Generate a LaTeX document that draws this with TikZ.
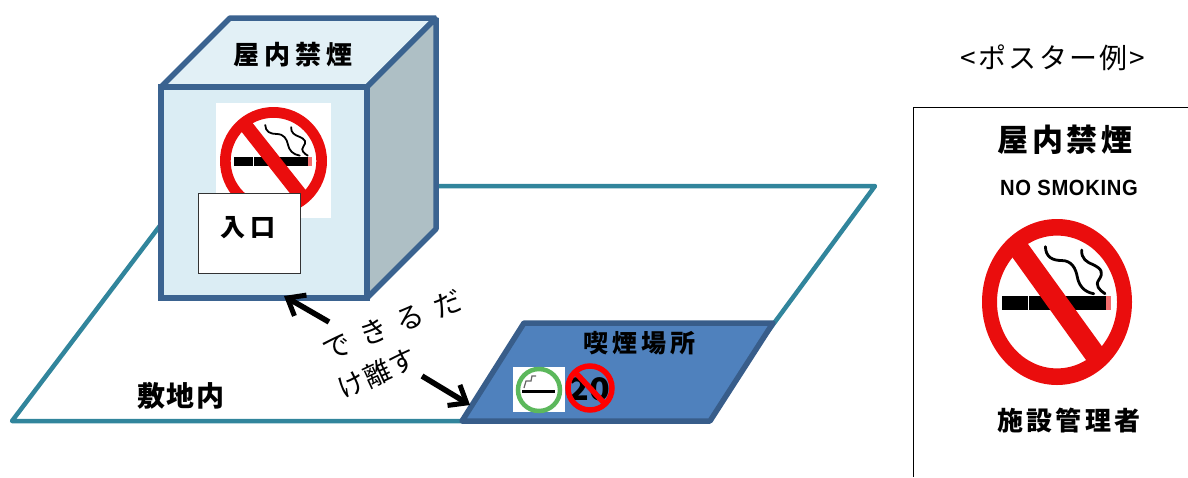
\documentclass[tikz,border=0pt]{standalone}
\usepackage{fontspec}
\setmainfont{Noto Sans CJK JP}
\newfontfamily\latinbold{Liberation Sans}
\usetikzlibrary{arrows.meta}
\definecolor{groundline}{HTML}{31859C}
\definecolor{cubeline}{HTML}{3B6390}
\definecolor{cubefront}{HTML}{DBEDF4}
\definecolor{cubetop}{HTML}{E2F0F6}
\definecolor{cubeside}{HTML}{AEBFC5}
\definecolor{zonefill}{HTML}{4F81BD}
\definecolor{zoneline}{HTML}{385D8A}
\definecolor{signred}{HTML}{EA0D0D}
\definecolor{ringgreen}{HTML}{5CB85C}
\newcommand{\jpt}[2]{\bfseries\addfontfeature{LetterSpace=#2}\fontsize{#1pt}{#1pt}\selectfont}
\newcommand{\nosmoke}[5]{%
  \begin{scope}[shift={(#1,#2)},xscale=#3,yscale=#4]
    \fill[black] (-.73,-.07) rectangle (.65,.1);
    \fill[white] (-.39,-.07) rectangle (-.37,.1);
    \fill[signred!60] (.65,-.07) rectangle (.72,.1);
    \draw[black,line width=#5,line cap=round] (-.155,-.667) .. controls (-.15,-.54) and (-.06,-.5) .. (.06,-.5) .. controls (.2,-.5) and (.25,-.4) .. (.27,-.305) .. controls (.29,-.2) and (.36,-.12) .. (.49,-.1);
    \draw[black,line width=#5,line cap=round] (.33,-.627) .. controls (.32,-.52) and (.4,-.48) .. (.48,-.45) .. controls (.6,-.4) and (.62,-.35) .. (.56,-.27) .. controls (.5,-.2) and (.57,-.14) .. (.64,-.1);
    \fill[signred,even odd rule] (0,0) circle (1) (0,0) circle (.8);
    \fill[signred] (-.62,-.57) -- (-.42,-.74) -- (.62,.56) -- (.42,.74) -- cycle;
  \end{scope}}
\tikzset{
  ground/.style={draw=groundline,line width=4.5pt,line join=round},
  cubeface/.style={draw=cubeline,line width=5.5pt,line join=bevel},
  zone/.style={draw=zoneline,fill=zonefill,line width=5.5pt,line join=round},
  gap/.style={-{Straight Barb[length=15pt,width=24pt,line width=5pt]},black,line width=5.5pt},
  label/.style={inner sep=0pt,text=black},
  entrance/.style={draw=black!80,fill=white,line width=1pt},
}
\begin{document}
\begin{tikzpicture}[x=1pt,y=-1pt]
\useasboundingbox (0,0) rectangle (1188,477);
% ground
\coordinate (g1) at (12,421);
\coordinate (g2) at (190,186);
\coordinate (g3) at (875,186);
\coordinate (g4) at (702,421);
\draw[ground] (g1) -- (g2) -- (g3) -- (g4) -- cycle;
% cube
\coordinate (fa) at (161,87);
\coordinate (fb) at (367,87);
\coordinate (fc) at (367,298);
\coordinate (fd) at (161,298);
\coordinate (ta) at (230,18);
\coordinate (tb) at (436,18);
\coordinate (sc) at (436,229);
\draw[cubeface,fill=cubetop] (fa) -- (ta) -- (tb) -- (fb) -- cycle;
\draw[cubeface,fill=cubeside] (fb) -- (tb) -- (sc) -- (fc) -- cycle;
\draw[cubeface,fill=cubefront,line join=miter] (fa) -- (fb) -- (fc) -- (fd) -- cycle;
\node[label] (roof) at (293,55) {\jpt{26}{20}屋内禁煙};
% building sign
\fill[white] (216,103) rectangle (331,218);
\nosmoke{273.5}{161}{53.5}{54}{1.8pt}
\node[entrance,minimum width=102pt,minimum height=80pt,inner sep=0pt] (door) at (249,233) {};
\node[label] (doortext) at (248,228) {\jpt{25}{20}入口};
% smoking area
\coordinate (za) at (524,323);
\coordinate (zb) at (773,323);
\coordinate (zc) at (710,421);
\coordinate (zd) at (462,421);
\draw[zone] (za) -- (zb) -- (zc) -- (zd) -- cycle;
\node[label] (zonetext) at (639,343) {\jpt{25}{16}喫煙場所};
\fill[white] (513,367) rectangle (565,412);
\draw[ringgreen,line width=4.5pt] (539,390) circle (21);
\fill[black] (522,390) rectangle (555,393);
\draw[black!60,line width=1.2pt] (524,388) -- (526,381) -- (531,381) -- (532,376) -- (536,376);
\node[label,xscale=1.1] (twenty) at (589,389) {\fontsize{31pt}{31pt}\selectfont\bfseries 20};
\draw[red,line width=5.5pt] (590,388) circle (22);
\draw[red,line width=5.5pt] (575,372) -- (605,404);
% arrows and their text
\coordinate (a1s) at (329,322);
\coordinate (a1e) at (284,296);
\coordinate (a2s) at (422,376);
\coordinate (a2e) at (470,405);
\draw[gap] (a1s) -- (a1e);
\draw[gap] (a2s) -- (a2e);
\node[label,rotate=21] (far1) at (392,325) {\fontsize{28pt}{28pt}\selectfont\addfontfeature{LetterSpace=42}できるだ};
\node[label,rotate=25] (far2) at (377,373) {\fontsize{27pt}{27pt}\selectfont\addfontfeature{LetterSpace=5}け離す};
\node[label] (site) at (181,396) {\jpt{28}{7}敷地内};
% poster
\coordinate (p1) at (913,477);
\coordinate (p2) at (913,107);
\coordinate (p3) at (1188,107);
\draw[black,line width=1pt] (p1) -- (p2) -- (p3);
\node[label] (postertitle) at (1053,58) {\fontsize{28pt}{28pt}\selectfont\addfontfeature{LetterSpace=8}<ポスター例>};
\node[label] (pban) at (1065,140) {\jpt{31}{12}屋内禁煙};
\node[label,xscale=.92] (pno) at (1069,188) {\latinbold\bfseries\fontsize{22pt}{22pt}\selectfont\addfontfeature{LetterSpace=3}NO SMOKING};
\nosmoke{1057}{302}{75}{83}{2.8pt}
\node[label] (pmgr) at (1069,421) {\jpt{26}{13}施設管理者};
\end{tikzpicture}
\end{document}
